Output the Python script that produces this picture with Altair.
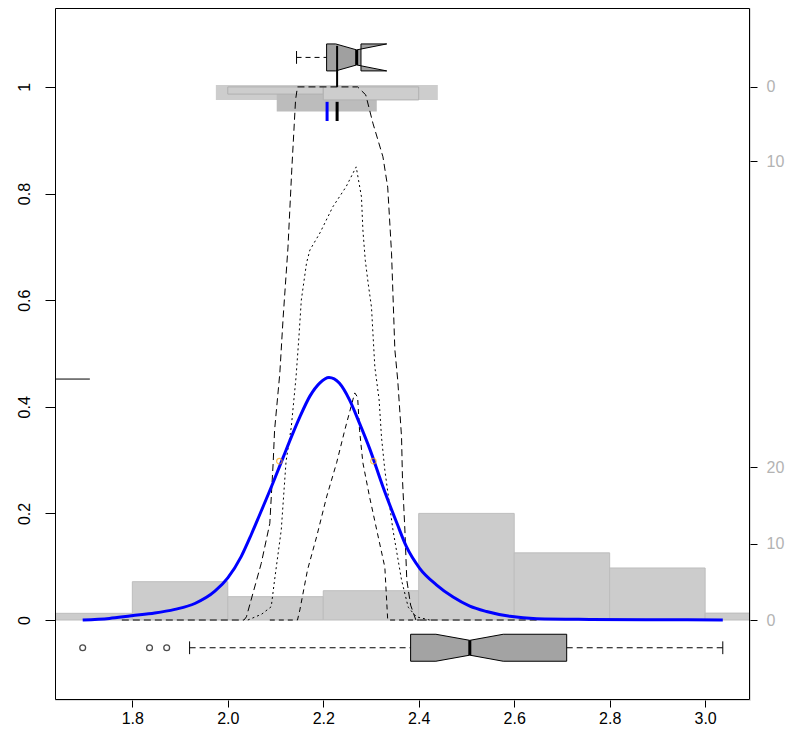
import altair as alt
import pandas as pd

# ---------------- axes ----------------
x_domain = [1.638, 3.094]
y_domain = [-0.150, 1.148]
x_ticks = [1.8, 2.0, 2.2, 2.4, 2.6, 2.8, 3.0]
y_ticks = [0, 0.2, 0.4, 0.6, 0.8, 1.0]
right_ticks = [0.0, 0.1433, 0.2866, 0.861, 1.0]
right_labels = ["0", "10", "20", "10", "0"]

# ---------------- bottom histogram ----------------
hist_lo = [1.6, 1.8, 2.0, 2.2, 2.4, 2.6, 2.8, 3.0]
hist_hi = [1.8, 2.0, 2.2, 2.4, 2.6, 2.8, 3.0, 3.2]
hist_h = [0.0126, 0.0719, 0.0438, 0.055, 0.200, 0.126, 0.0976, 0.013]

# ---------------- top (hanging) histogram and bands ----------------
top_hist_lo = [2.0, 2.2]
top_hist_hi = [2.2, 2.4]
top_hist_bottom = [0.9865, 0.9756]
band_lo = [1.975, 2.1025]
band_hi = [2.440, 2.3121]
band_top = [1.0038, 0.9882]
band_bottom = [0.9756, 0.9537]

# ---------------- curves ----------------
blue_x = [1.696, 1.752, 1.798, 1.847, 1.889, 1.931, 1.973, 2.000, 2.028, 2.049, 2.067, 2.095,
          2.116, 2.133, 2.151, 2.172, 2.193, 2.212, 2.234, 2.255, 2.276, 2.297, 2.325, 2.355,
          2.374, 2.402, 2.437, 2.472, 2.507, 2.542, 2.591, 2.647, 2.758, 2.900, 3.037]
blue_y = [0.000, 0.003, 0.008, 0.013, 0.020, 0.031, 0.054, 0.079, 0.119, 0.160, 0.198, 0.258,
          0.305, 0.343, 0.381, 0.420, 0.445, 0.455, 0.444, 0.413, 0.369, 0.322, 0.250, 0.180,
          0.138, 0.097, 0.066, 0.043, 0.026, 0.016, 0.007, 0.0026, 0.0012, 0.0005, 0.0002]

lineA_x = [1.778, 2.034, 2.039, 2.070, 2.088, 2.095, 2.098, 2.109, 2.116, 2.126,
           2.134, 2.142, 2.146, 2.272, 2.289, 2.304, 2.325, 2.335, 2.343, 2.350,
           2.356, 2.364, 2.366, 2.371, 2.375, 2.383, 2.394, 2.647]
lineA_y = [0, 0, 0.006, 0.106, 0.181, 0.294, 0.356, 0.463, 0.568, 0.698,
           0.844, 0.976, 1.0, 1.0, 0.985, 0.932, 0.869, 0.812, 0.689, 0.507,
           0.450, 0.343, 0.263, 0.169, 0.075, 0.028, 0, 0]

lineB_x = [2.088, 2.146, 2.151, 2.167, 2.186, 2.207, 2.228, 2.245, 2.262, 2.266,
           2.272, 2.276, 2.283, 2.297, 2.312, 2.329, 2.335, 2.402]
lineB_y = [0, 0, 0.019, 0.094, 0.156, 0.231, 0.295, 0.356, 0.413, 0.426,
           0.418, 0.356, 0.295, 0.231, 0.169, 0.099, 0, 0]

lineD_x = [2.042, 2.071, 2.091, 2.098, 2.112, 2.122, 2.133, 2.143, 2.149, 2.154,
           2.165, 2.172, 2.193, 2.220, 2.248, 2.269, 2.280, 2.283, 2.288, 2.294,
           2.301, 2.308, 2.317, 2.322, 2.329, 2.346, 2.364, 2.378, 2.395, 2.423]
lineD_y = [0, 0.011, 0.025, 0.075, 0.169, 0.297, 0.362, 0.456, 0.531, 0.600,
           0.670, 0.694, 0.726, 0.775, 0.813, 0.850, 0.794, 0.732, 0.675, 0.632,
           0.587, 0.475, 0.413, 0.343, 0.281, 0.169, 0.075, 0.024, 0.006, 0]

orange_x = [2.108, 2.305]
orange_y = [0.298, 0.298]

# short mark at the left (density maximum)
left_mark_x = [1.638, 1.711]
left_mark_y = 0.452

# ---------------- boxplots ----------------
# bottom: whisker lo, q1, notch lo, median, notch hi, q3, whisker hi
bot_stats = [1.920, 2.383, 2.436, 2.507, 2.577, 2.710, 3.037]
bot_out = [1.696, 1.836, 1.872]
bot_c, bot_w, bot_nw = -0.052, 0.0253, 0.0139
# top boxplot: whisker lo, q1, notch lo, median, notch hi, q3
top_stats = [2.144, 2.207, 2.226, 2.270, 2.333, 2.279]
top_c, top_w, top_nw = 1.0553, 0.0253, 0.0141
mean_tick_x = [2.208, 2.229]
tick_y = [0.972, 0.936]
top_line_x = 2.229
top_line_y = [1.077, 1.0]

# ---------------- scales / axes ----------------
W, H = 695, 692
FONT = "Liberation Sans"
FS = 16
xs = alt.Scale(domain=x_domain, nice=False, zero=False)
ys = alt.Scale(domain=y_domain, nice=False, zero=False)
x_axis = alt.Axis(values=x_ticks, format=".1f", title=None, grid=False, domain=False,
                  tickSize=7, tickColor="black", labelColor="black", labelFontSize=FS,
                  labelFont=FONT, labelPadding=3, labelFlush=False, labelOverlap=False)
y_axis = alt.Axis(values=y_ticks, format=".1~f", title=None, grid=False, domain=False,
                  tickSize=10, tickColor="black", labelColor="black", labelFontSize=FS,
                  labelFont=FONT, labelAngle=270, labelAlign="center", labelBaseline="bottom",
                  labelPadding=13, labelFlush=False, labelOverlap=False)


def X(f):
    return alt.X(f, type="quantitative", scale=xs, axis=x_axis)


def Y(f):
    return alt.Y(f, type="quantitative", scale=ys, axis=y_axis)


def polyline(xv, yv):
    return pd.DataFrame({"x": xv, "y": yv, "i": list(range(len(xv)))})


def notched(st_q1, nlo, med, nhi, q3, c, w, nw):
    px = [st_q1, st_q1, nlo, med, nhi, q3, q3, nhi, med, nlo, st_q1]
    py = [c - w, c + w, c + w, c + nw, c + w, c + w, c - w, c - w, c - nw, c - w, c - w]
    return polyline(px, py)


layers = []

# bottom histogram
hdf = pd.DataFrame({"x": hist_lo, "x2": hist_hi, "y": [0] * len(hist_h), "y2": hist_h})
layers.append(alt.Chart(hdf).mark_rect(fill="#cccccc", stroke="#bdbdbd", strokeWidth=1, clip=True)
              .encode(x=X("x"), x2="x2", y=Y("y"), y2="y2"))

# bands at top
bdf = pd.DataFrame({"x": band_lo, "x2": band_hi, "y": band_top, "y2": band_bottom,
                    "k": ["a", "b"]})
layers.append(alt.Chart(bdf).mark_rect(strokeWidth=0).encode(
    x=X("x"), x2="x2", y=Y("y"), y2="y2",
    fill=alt.Fill("k:N", scale=alt.Scale(domain=["a", "b"], range=["#cdcdcd", "#bcbcbc"]),
                  legend=None)))
tdf = pd.DataFrame({"x": top_hist_lo, "x2": top_hist_hi, "y": [1.0] * 2, "y2": top_hist_bottom})
layers.append(alt.Chart(tdf).mark_rect(fill="#cdcdcd", stroke="#b0b0b0", strokeWidth=1)
              .encode(x=X("x"), x2="x2", y=Y("y"), y2="y2"))

# dashed / dotted curves
layers.append(alt.Chart(polyline(lineA_x, lineA_y)).mark_line(
    color="black", strokeWidth=1, strokeDash=[7, 4], clip=True)
    .encode(x=X("x"), y=Y("y"), order="i:Q"))
layers.append(alt.Chart(polyline(lineB_x, lineB_y)).mark_line(
    color="black", strokeWidth=1, strokeDash=[5, 4], clip=True)
    .encode(x=X("x"), y=Y("y"), order="i:Q"))
layers.append(alt.Chart(polyline(lineD_x, lineD_y)).mark_line(
    color="black", strokeWidth=1, strokeDash=[2, 3], clip=True)
    .encode(x=X("x"), y=Y("y"), order="i:Q"))

# blue curve
layers.append(alt.Chart(polyline(blue_x, blue_y)).mark_line(
    color="#0000ff", strokeWidth=3, interpolate="monotone", clip=True)
    .encode(x=X("x"), y=Y("y"), order="i:Q"))
layers.append(alt.Chart(pd.DataFrame({"x": orange_x, "y": orange_y})).mark_point(
    shape="circle", filled=False, color="orange", size=30, strokeWidth=1.2)
    .encode(x=X("x"), y=Y("y")))

# left short mark
layers.append(alt.Chart(pd.DataFrame({"x": [left_mark_x[0]], "x2": [left_mark_x[1]],
                                      "y": [left_mark_y]}))
              .mark_rule(color="black", strokeWidth=1).encode(x=X("x"), x2="x2", y=Y("y")))

# ---- top boxplot ----
tw = pd.DataFrame({"x": [top_stats[0]], "x2": [top_stats[1]], "y": [top_c]})
layers.append(alt.Chart(tw).mark_rule(color="black", strokeWidth=1, strokeDash=[5, 4])
              .encode(x=X("x"), x2="x2", y=Y("y")))
layers.append(alt.Chart(pd.DataFrame({"x": [top_stats[0]], "y": [top_c - 0.012],
                                      "y2": [top_c + 0.012]}))
              .mark_rule(color="black", strokeWidth=1).encode(x=X("x"), y=Y("y"), y2="y2"))
layers.append(alt.Chart(notched(top_stats[1], top_stats[2], top_stats[3], top_stats[4],
                                top_stats[5], top_c, top_w, top_nw))
              .mark_line(fill="#a0a0a0", stroke="black", strokeWidth=1)
              .encode(x=X("x"), y=Y("y"), order="i:Q"))
layers.append(alt.Chart(pd.DataFrame({"x": [top_stats[3]], "y": [top_c - top_nw],
                                      "y2": [top_c + top_nw]}))
              .mark_rule(color="black", strokeWidth=3).encode(x=X("x"), y=Y("y"), y2="y2"))
layers.append(alt.Chart(pd.DataFrame({"x": [top_line_x], "y": [top_line_y[0]],
                                      "y2": [top_line_y[1]]}))
              .mark_rule(color="black", strokeWidth=2).encode(x=X("x"), y=Y("y"), y2="y2"))
layers.append(alt.Chart(pd.DataFrame({"x": mean_tick_x, "y": tick_y[:1] * 2,
                                      "y2": tick_y[1:] * 2, "k": ["mean", "median"]}))
              .mark_rule(strokeWidth=3).encode(
                  x=X("x"), y=Y("y"), y2="y2",
                  color=alt.Color("k:N", scale=alt.Scale(domain=["mean", "median"],
                                                         range=["#0000ff", "black"]),
                                  legend=None)))

# ---- bottom boxplot ----
bw = pd.DataFrame({"x": [bot_stats[0], bot_stats[5]], "x2": [bot_stats[1], bot_stats[6]],
                   "y": [bot_c, bot_c]})
layers.append(alt.Chart(bw).mark_rule(color="black", strokeWidth=1, strokeDash=[6, 4])
              .encode(x=X("x"), x2="x2", y=Y("y")))
layers.append(alt.Chart(pd.DataFrame({"x": [bot_stats[0], bot_stats[6]],
                                      "y": [bot_c - 0.012] * 2, "y2": [bot_c + 0.012] * 2}))
              .mark_rule(color="black", strokeWidth=1).encode(x=X("x"), y=Y("y"), y2="y2"))
layers.append(alt.Chart(notched(bot_stats[1], bot_stats[2], bot_stats[3], bot_stats[4],
                                bot_stats[5], bot_c, bot_w, bot_nw))
              .mark_line(fill="#a3a3a3", stroke="black", strokeWidth=1)
              .encode(x=X("x"), y=Y("y"), order="i:Q"))
layers.append(alt.Chart(pd.DataFrame({"x": [bot_stats[3]], "y": [bot_c - bot_nw],
                                      "y2": [bot_c + bot_nw]}))
              .mark_rule(color="black", strokeWidth=3).encode(x=X("x"), y=Y("y"), y2="y2"))
layers.append(alt.Chart(pd.DataFrame({"x": bot_out, "y": [bot_c] * len(bot_out)}))
              .mark_point(shape="circle", filled=False, color="black", size=34, strokeWidth=1.3)
              .encode(x=X("x"), y=Y("y")))

# frame around the plot area (half-pixel offset for a crisp line)
layers.append(alt.Chart(pd.DataFrame({"k": [0]})).mark_rect(
    filled=False, stroke="black", strokeWidth=1).encode(
    x=alt.value(0.5), x2=alt.value(W - 0.5), y=alt.value(0.5), y2=alt.value(H - 0.5)))

main = alt.layer(*layers)

# ---- right axis ----
expr = "''"
for v, lab in reversed(list(zip(right_ticks, right_labels))):
    expr = f"abs(datum.value - {v}) < 0.005 ? '{lab}' : ({expr})"
right_axis = alt.Axis(orient="right", values=right_ticks, labelExpr=expr, title=None,
                      grid=False, domain=False, tickSize=7, tickColor="black",
                      labelColor="#b3b3b3", labelFontSize=FS, labelFont=FONT,
                      labelPadding=9, labelFlush=False, labelOverlap=False)
right_layer = alt.Chart(pd.DataFrame({"v": right_ticks})).mark_point(opacity=0).encode(
    y=alt.Y("v:Q", scale=alt.Scale(domain=y_domain, nice=False, zero=False), axis=right_axis))

chart = (alt.layer(main, right_layer)
         .resolve_scale(y="independent")
         .properties(width=W, height=H,
                     autosize=alt.AutoSizeParams(type="none"),
                     padding={"left": 47, "top": 0, "right": 39, "bottom": 28})
         .configure_view(strokeWidth=0, fill="white")
         .configure(background="white"))

chart.save("out.html", embed_options={"renderer": "svg", "actions": False})
